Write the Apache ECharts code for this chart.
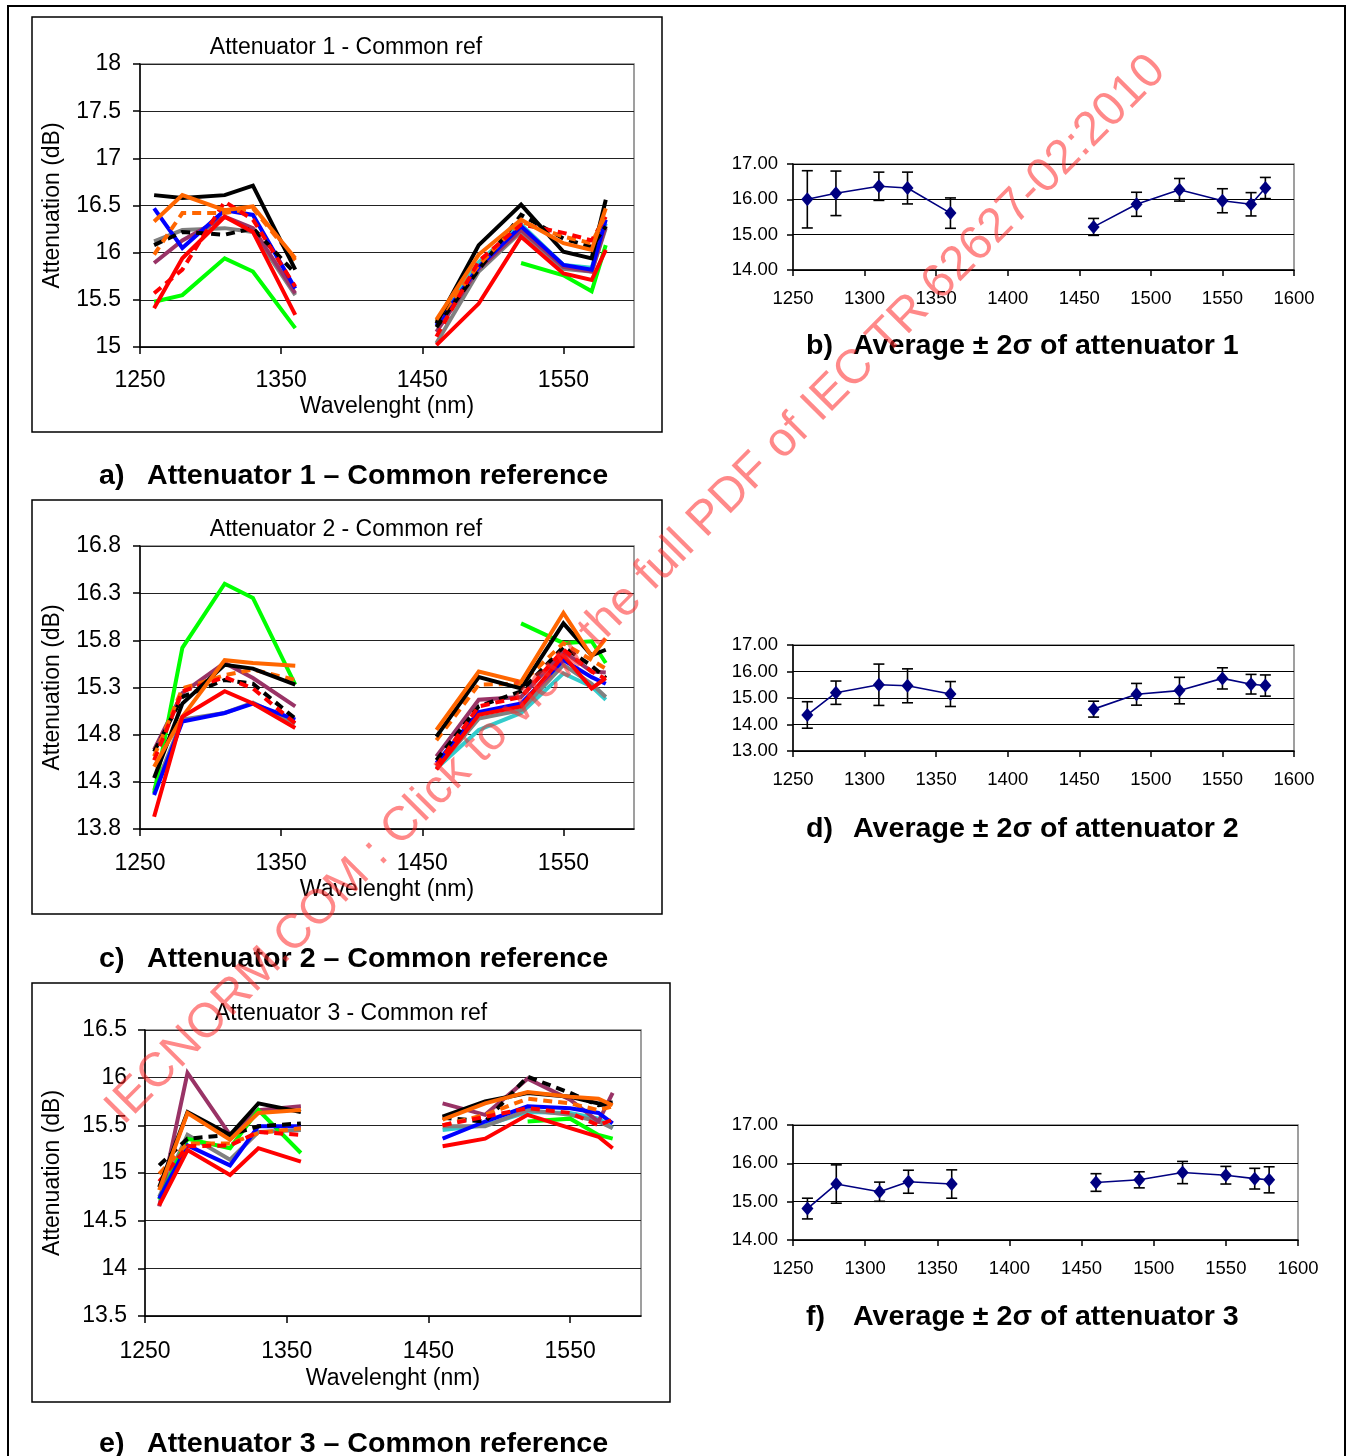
<!DOCTYPE html>
<html><head><meta charset="utf-8">
<script src="https://cdn.jsdelivr.net/npm/echarts@6/dist/echarts.min.js"></script>
<style>html,body{margin:0;padding:0;background:#fff}#c{width:1352px;height:1456px}</style>
</head><body><div id="c"></div>
<script>
// ---------- DATA ----------
const wavelengths = [1260, 1280, 1310, 1330, 1360, 1460, 1490, 1520, 1550, 1570, 1580];

// Attenuator 1 - Common ref (per lab)
const att1Cyan       = [null, null, null, null, null, 15.27, 15.90, 16.30, 15.87, 15.84, 16.31];
const att1Gray       = [16.12, 16.24, 16.26, 16.22, 15.55, 15.04, 15.80, 16.22, 15.83, 15.80, 16.26];
const att1Purple     = [15.89, 16.13, 16.38, 16.26, 15.57, 15.16, 15.83, 16.24, 15.85, 15.80, 16.28];
const att1Green      = [15.48, 15.55, 15.94, 15.80, 15.20, null, null, 15.89, 15.76, 15.59, 16.08];
const att1Blue       = [16.47, 16.05, 16.45, 16.40, 15.62, 15.23, 15.85, 16.28, 15.87, 15.82, 16.35];
const att1BlackDash  = [16.08, 16.22, 16.19, 16.26, 15.78, 15.21, 15.82, 16.40, 16.15, 16.06, 16.28];
const att1OrangeDash = [15.98, 16.42, 16.42, 16.47, 15.92, 15.27, 15.87, 16.33, 16.17, 16.10, 16.40];
const att1RedDash    = [15.57, 15.82, 16.54, 16.35, 15.64, 15.11, 15.91, 16.30, 16.21, 16.13, 16.38];
const att1Black      = [16.61, 16.58, 16.61, 16.71, 15.82, 15.25, 16.08, 16.51, 16.01, 15.94, 16.56];
const att1Orange     = [16.33, 16.61, 16.45, 16.49, 15.94, 15.29, 15.98, 16.35, 16.10, 16.03, 16.47];
const att1Red        = [15.41, 15.94, 16.38, 16.22, 15.34, 15.02, 15.46, 16.17, 15.78, 15.71, 16.03];

// Attenuator 2 - Common ref
const att2Cyan       = [null, null, null, null, null, 14.44, 14.85, 15.03, 15.45, 15.31, 15.17];
const att2Gray       = [14.21, 14.96, 15.03, 15.14, 14.92, 14.44, 14.97, 15.06, 15.54, 15.34, 15.20];
const att2Purple     = [14.64, 15.24, 15.56, 15.40, 15.10, 14.57, 15.17, 15.20, 15.68, 15.47, 15.46];
const att2Green      = [14.18, 15.72, 16.40, 16.25, 15.33, null, null, 15.98, 15.77, 15.79, 15.56];
const att2Blue       = [14.16, 14.94, 15.03, 15.13, 14.96, 14.50, 15.04, 15.13, 15.59, 15.41, 15.34];
const att2BlackDash  = [14.62, 15.20, 15.38, 15.34, 14.97, 14.53, 15.10, 15.26, 15.73, 15.53, 15.40];
const att2OrangeDash = [14.57, 15.29, 15.43, 15.49, 15.38, 14.74, 15.33, 15.34, 15.77, 15.59, 15.50];
const att2RedDash    = [14.53, 15.26, 15.41, 15.29, 14.92, 14.47, 15.10, 15.20, 15.70, 15.47, 15.39];
const att2Black      = [14.34, 15.13, 15.54, 15.50, 15.33, 14.78, 15.41, 15.29, 15.98, 15.64, 15.70];
const att2Orange     = [14.46, 14.99, 15.59, 15.56, 15.53, 14.85, 15.47, 15.36, 16.09, 15.63, 15.82];
const att2Red        = [13.93, 14.99, 15.26, 15.13, 14.87, 14.43, 15.01, 15.10, 15.64, 15.29, 15.40];

// Attenuator 3 - Common ref
const att3Cyan       = [null, null, null, null, null, 15.45, 15.50, 15.64, 15.63, 15.57, 15.47];
const att3Gray       = [14.75, 15.40, 15.14, 15.43, 15.45, 15.49, 15.49, 15.66, 15.61, 15.54, 15.47];
const att3Purple     = [14.65, 16.05, 15.40, 15.66, 15.70, 15.73, 15.61, 15.99, 15.77, 15.54, 15.84];
const att3Green      = [14.72, 15.36, 15.26, 15.66, 15.21, null, null, 15.54, 15.57, 15.40, 15.36];
const att3Blue       = [14.73, 15.29, 15.08, 15.49, 15.49, 15.36, 15.54, 15.70, 15.68, 15.63, 15.52];
const att3BlackDash  = [15.08, 15.36, 15.40, 15.49, 15.52, 15.58, 15.54, 16.01, 15.84, 15.71, 15.73];
const att3OrangeDash = [14.99, 15.31, 15.31, 15.42, 15.47, 15.50, 15.61, 15.78, 15.73, 15.66, 15.70];
const att3RedDash    = [14.91, 15.28, 15.29, 15.43, 15.40, 15.50, 15.59, 15.68, 15.63, 15.50, 15.56];
const att3Black      = [14.85, 15.64, 15.40, 15.73, 15.64, 15.59, 15.75, 15.84, 15.80, 15.73, 15.74];
const att3Orange     = [14.82, 15.63, 15.35, 15.63, 15.66, 15.56, 15.73, 15.85, 15.80, 15.78, 15.71];
const att3Red        = [14.66, 15.24, 14.98, 15.26, 15.12, 15.28, 15.36, 15.61, 15.47, 15.38, 15.26];

// Average and 2 sigma
const avg1   = [16.00, 16.17, 16.37, 16.32, 15.61, 15.22, 15.86, 16.27, 15.96, 15.86, 16.32];
const twoSd1 = [0.81, 0.63, 0.40, 0.45, 0.43, 0.24, 0.34, 0.32, 0.34, 0.33, 0.30];
const avg2   = [14.36, 15.20, 15.50, 15.46, 15.15, 14.58, 15.14, 15.28, 15.74, 15.52, 15.47];
const twoSd2 = [0.50, 0.44, 0.78, 0.64, 0.47, 0.30, 0.41, 0.50, 0.40, 0.37, 0.40];
const avg3   = [14.82, 15.46, 15.26, 15.52, 15.46, 15.50, 15.57, 15.76, 15.69, 15.60, 15.57];
const twoSd3 = [0.27, 0.50, 0.25, 0.30, 0.37, 0.23, 0.21, 0.29, 0.23, 0.27, 0.34];

// Axis ranges / tick labels
const leftXTicks = [1250, 1350, 1450, 1550];
const rightXTicks = [1250, 1300, 1350, 1400, 1450, 1500, 1550, 1600];
const yTicks1 = [15, 15.5, 16, 16.5, 17, 17.5, 18];
const yTicks2 = [13.8, 14.3, 14.8, 15.3, 15.8, 16.3, 16.8];
const yTicks3 = [13.5, 14, 14.5, 15, 15.5, 16, 16.5];
const avgYTicks1 = [14, 15, 16, 17];
const avgYTicks2 = [13, 14, 15, 16, 17];
const avgYTicks3 = [14, 15, 16, 17];

const chartTitles = ['Attenuator 1 - Common ref', 'Attenuator 2 - Common ref', 'Attenuator 3 - Common ref'];
const captionLetters = ['a)', 'b)', 'c)', 'd)', 'e)', 'f)'];
const captionTexts = ['Attenuator 1 \u2013 Common reference', 'Average \u00b1 2\u03c3 of attenuator 1',
  'Attenuator 2 \u2013 Common reference', 'Average \u00b1 2\u03c3 of attenuator 2',
  'Attenuator 3 \u2013 Common reference', 'Average \u00b1 2\u03c3 of attenuator 3'];
const watermarkText = 'IECNORM.COM : Click to view the full PDF of IEC TR 62627-02:2010';

// ---------- BUILD ----------
const FF = '"Liberation Sans", Arial, sans-serif';
const labStyles = [
  {key: 'Cyan', color: '#33CCCC', dash: false},
  {key: 'Gray', color: '#808080', dash: false},
  {key: 'Purple', color: '#993366', dash: false},
  {key: 'Green', color: '#00FF00', dash: false},
  {key: 'Blue', color: '#0000FF', dash: false},
  {key: 'BlackDash', color: '#000000', dash: true},
  {key: 'OrangeDash', color: '#FF6600', dash: true},
  {key: 'RedDash', color: '#FF0000', dash: true},
  {key: 'Black', color: '#000000', dash: false},
  {key: 'Orange', color: '#FF6600', dash: false},
  {key: 'Red', color: '#FF0000', dash: false}
];
const attTables = [
  {Cyan: att1Cyan, Gray: att1Gray, Purple: att1Purple, Green: att1Green, Blue: att1Blue, BlackDash: att1BlackDash, OrangeDash: att1OrangeDash, RedDash: att1RedDash, Black: att1Black, Orange: att1Orange, Red: att1Red},
  {Cyan: att2Cyan, Gray: att2Gray, Purple: att2Purple, Green: att2Green, Blue: att2Blue, BlackDash: att2BlackDash, OrangeDash: att2OrangeDash, RedDash: att2RedDash, Black: att2Black, Orange: att2Orange, Red: att2Red},
  {Cyan: att3Cyan, Gray: att3Gray, Purple: att3Purple, Green: att3Green, Blue: att3Blue, BlackDash: att3BlackDash, OrangeDash: att3OrangeDash, RedDash: att3RedDash, Black: att3Black, Orange: att3Orange, Red: att3Red}
];
const avgTables = [[avg1, twoSd1], [avg2, twoSd2], [avg3, twoSd3]];
const SEGMENTS = [[0, 5], [5, 11]];
function segData(vals, s, e) { return wavelengths.slice(s, e).map((w, i) => [w, vals[s + i]]); }

const grids = [
  {left: 140, top: 64, width: 494, height: 283},
  {left: 140, top: 546, width: 494, height: 283},
  {left: 145, top: 1030, width: 496, height: 286},
  {left: 793, top: 164, width: 501, height: 106},
  {left: 793, top: 645, width: 501, height: 106},
  {left: 793, top: 1125, width: 505, height: 115}
].map(g => Object.assign(g, {show: true, borderColor: '#808080', borderWidth: 1.5, backgroundColor: 'transparent', containLabel: false, outerBoundsMode: 'none'}));

const leftY = [yTicks1, yTicks2, yTicks3];
const leftLayout = [
  {xMargin: 22, xNameGap: 48, yMargin: 19, yNameGap: 76},
  {xMargin: 23, xNameGap: 49, yMargin: 19, yNameGap: 76},
  {xMargin: 24, xNameGap: 51, yMargin: 18, yNameGap: 81}
];
const rightY = [avgYTicks1, avgYTicks2, avgYTicks3];

const xAxes = [], yAxes = [];
const axLine = {show: true, onZero: false, lineStyle: {color: '#000', width: 1.5}};
const axTick = {show: true, inside: false, length: 7, lineStyle: {color: '#000', width: 1.5}};
const plain = v => String(v);
for (let i = 0; i < 3; i++) {
  const L = leftLayout[i];
  xAxes.push({type: 'value', gridIndex: i, min: 1250, max: 1600, interval: leftXTicks[1] - leftXTicks[0],
    axisLine: axLine, axisTick: axTick,
    axisLabel: {color: '#000', fontSize: 23, fontFamily: FF, margin: L.xMargin, showMaxLabel: false, formatter: plain},
    splitLine: {show: false},
    name: 'Wavelenght (nm)', nameLocation: 'middle', nameGap: L.xNameGap,
    nameTextStyle: {color: '#000', fontSize: 23, fontFamily: FF}});
  const yt = leftY[i];
  yAxes.push({type: 'value', gridIndex: i, min: yt[0], max: yt[yt.length - 1], interval: 0.5,
    axisLine: axLine, axisTick: axTick,
    axisLabel: {color: '#000', fontSize: 23, fontFamily: FF, margin: L.yMargin, padding: [4, 0, 0, 0], formatter: plain},
    splitLine: {show: true, lineStyle: {color: '#222', width: 1.2}},
    name: 'Attenuation (dB)', nameLocation: 'middle', nameGap: L.yNameGap, nameRotate: 90,
    nameTextStyle: {color: '#000', fontSize: 23, fontFamily: FF}});
}
for (let i = 0; i < 3; i++) {
  const yt = rightY[i];
  xAxes.push({type: 'value', gridIndex: 3 + i, min: rightXTicks[0], max: rightXTicks[rightXTicks.length - 1], interval: 50,
    axisLine: axLine, axisTick: Object.assign({}, axTick, {length: 6}),
    axisLabel: {color: '#000', fontSize: 18.5, fontFamily: FF, margin: 19, formatter: plain},
    splitLine: {show: false}});
  yAxes.push({type: 'value', gridIndex: 3 + i, min: yt[0], max: yt[yt.length - 1], interval: 1,
    axisLine: axLine, axisTick: Object.assign({}, axTick, {length: 6}),
    axisLabel: {color: '#000', fontSize: 18.5, fontFamily: FF, margin: 15, padding: [3, 0, 0, 0], formatter: v => v.toFixed(2)},
    splitLine: {show: true, lineStyle: {color: '#000', width: 1}}});
}

const series = [];
for (let i = 0; i < 3; i++) {
  const tbl = attTables[i];
  labStyles.forEach((st, k) => {
    SEGMENTS.forEach(([s, e]) => {
      series.push({type: 'line', name: st.key, xAxisIndex: i, yAxisIndex: i,
        data: segData(tbl[st.key], s, e), symbol: 'none', connectNulls: false,
        lineStyle: {color: st.color, width: 4, type: st.dash ? [9, 6] : 'solid', cap: 'butt', join: 'miter'},
        z: 2 + k * 0.01, animation: false, silent: true});
    });
  });
}
for (let i = 0; i < 3; i++) {
  const [avg, sd] = avgTables[i];
  series.push({type: 'custom', xAxisIndex: 3 + i, yAxisIndex: 3 + i,
    data: wavelengths.map((w, j) => [w, avg[j] - sd[j], avg[j] + sd[j]]),
    encode: {x: 0, y: [1, 2]},
    renderItem: (params, api) => {
      const x = api.value(0);
      const lo = api.coord([x, api.value(1)]);
      const hi = api.coord([x, api.value(2)]);
      const cw = 5.5, st = {stroke: '#000', lineWidth: 1.6};
      return {type: 'group', children: [
        {type: 'line', shape: {x1: lo[0], y1: lo[1], x2: hi[0], y2: hi[1]}, style: st},
        {type: 'line', shape: {x1: lo[0] - cw, y1: lo[1], x2: lo[0] + cw, y2: lo[1]}, style: st},
        {type: 'line', shape: {x1: hi[0] - cw, y1: hi[1], x2: hi[0] + cw, y2: hi[1]}, style: st}
      ]};
    }, z: 3, animation: false, silent: true});
  SEGMENTS.forEach(([s, e]) => {
    series.push({type: 'line', name: 'Average', xAxisIndex: 3 + i, yAxisIndex: 3 + i,
      data: segData(avg, s, e), symbol: 'diamond', symbolSize: [12, 14],
      itemStyle: {color: '#000080'}, lineStyle: {color: '#000080', width: 1.6},
      z: 4, animation: false, silent: true});
  });
}

const graphic = [];
graphic.push({type: 'polyline', shape: {points: [[8, 1460], [8, 6], [1345, 6], [1345, 1460]]}, style: {stroke: '#000', lineWidth: 2, fill: 'none'}, silent: true});
[[32, 17, 630, 415], [32, 500, 630, 414], [32, 983, 638, 419]].forEach(([x, y, w, h]) => {
  graphic.push({type: 'rect', shape: {x: x, y: y, width: w, height: h}, style: {stroke: '#000', lineWidth: 1.5, fill: 'none'}, silent: true});
});
[[346, 48], [346, 530], [351, 1014]].forEach(([x, y], i) => {
  graphic.push({type: 'text', x: x, y: y, style: {text: chartTitles[i], font: '23px ' + FF, fill: '#000', align: 'center', verticalAlign: 'middle'}, silent: true});
});
const capPos = [[99, 147, 477], [806, 853, 347], [99, 147, 960], [806, 853, 830], [99, 147, 1445], [806, 853, 1318]];
capPos.forEach(([xl, xt, y], i) => {
  graphic.push({type: 'text', x: xl, y: y, scaleX: 1.06, style: {text: captionLetters[i], font: 'bold 27px ' + FF, fill: '#000', align: 'left', verticalAlign: 'middle'}, silent: true});
  graphic.push({type: 'text', x: xt, y: y, scaleX: 1.06, style: {text: captionTexts[i], font: 'bold 27px ' + FF, fill: '#000', align: 'left', verticalAlign: 'middle'}, silent: true});
});
graphic.push({type: 'text', x: 636, y: 590, rotation: 0.79, z: 100,
  style: {text: watermarkText, font: '48px ' + FF, fill: 'rgba(255,40,40,0.55)', align: 'center', verticalAlign: 'middle'}, silent: true});

const chart = echarts.init(document.getElementById('c'), null, {renderer: 'canvas'});
chart.setOption({
  backgroundColor: '#fff',
  animation: false,
  grid: grids,
  xAxis: xAxes,
  yAxis: yAxes,
  series: series,
  graphic: {elements: graphic},
  tooltip: {show: false},
  legend: {show: false}
});
</script></body></html>
